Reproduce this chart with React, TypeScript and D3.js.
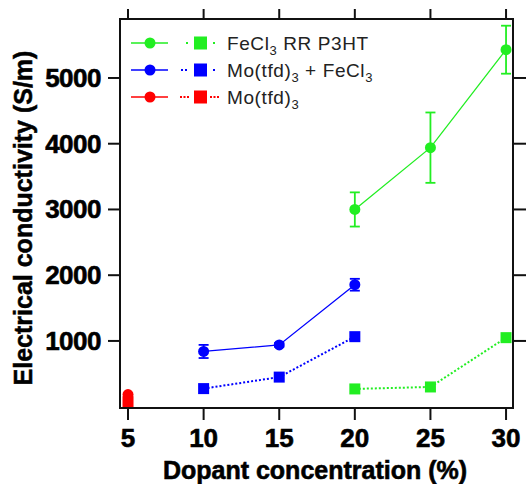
import React from 'react';
import * as d3 from 'd3';

// tick values
const xTicks = [5, 10, 15, 20, 25, 30];
const yTicks = [1000, 2000, 3000, 4000, 5000];

// FeCl3 RR P3HT
const fecl3CircleX = [20, 25, 30];
const fecl3CircleY = [3000, 3940, 5430];
const fecl3CircleErr = [260, 535, 365];
const fecl3SquareX = [20, 25, 30];
const fecl3SquareY = [270, 300, 1050];

// Mo(tfd)3 + FeCl3
const moFeCircleX = [10, 15, 20];
const moFeCircleY = [840, 940, 1855];
const moFeCircleErr = [100, 30, 90];
const moFeSquareX = [10, 15, 20];
const moFeSquareY = [275, 450, 1065];

// Mo(tfd)3
const moCircleX = [5];
const moCircleY = [185];
const moCircleErr = [0];
const moSquareX = [5];
const moSquareY = [75];

const GREEN = '#22ee22';
const BLUE = '#0000ff';
const RED = '#ff0000';

// legend dotted-line dot positions (px), as drawn in the original key
const series = [
  { name: 'fecl3', color: GREEN, cx: fecl3CircleX, cy: fecl3CircleY, ce: fecl3CircleErr, sx: fecl3SquareX, sy: fecl3SquareY, dots: [186, 213] },
  { name: 'mofe', color: BLUE, cx: moFeCircleX, cy: moFeCircleY, ce: moFeCircleErr, sx: moFeSquareX, sy: moFeSquareY, dots: [181, 185, 213] },
  { name: 'mo', color: RED, cx: moCircleX, cy: moCircleY, ce: moCircleErr, sx: moSquareX, sy: moSquareY, dots: [180, 183.5, 187, 210, 213.5, 217] },
];

const W = 526;
const H = 484;
const left = 120, right = 513, top = 19, bottom = 408;

const App = () => {
  const x = d3.scaleLinear().domain([4.47, 30.46]).range([left, right]);
  const y = d3.scaleLinear().domain([-20, 5897]).range([bottom, top]);

  const line = d3.line<[number, number]>()
    .x(d => x(d[0]))
    .y(d => y(d[1]));

  const font = '"Liberation Sans", Arial, sans-serif';

  return (
    <svg width={W} height={H} style={{ position: 'absolute', left: 0, top: 0, background: '#fff' }}>
      <defs>
        <clipPath id="plot">
          <rect x={left} y={top} width={right - left} height={bottom - top} />
        </clipPath>
      </defs>

      {/* data */}
      <g clipPath="url(#plot)">
        {series.map(s => (
          <g key={s.name}>
            <path d={line(s.cx.map((v, i) => [v, s.cy[i]] as [number, number])) || ''}
              fill="none" stroke={s.color} strokeWidth={1.3} />
            <path d={line(s.sx.map((v, i) => [v, s.sy[i]] as [number, number])) || ''}
              fill="none" stroke={s.color} strokeWidth={2} strokeDasharray="2,2" />
            {s.cx.map((v, i) => s.ce[i] > 0 ? (
              <g key={'e' + i} stroke={s.color} strokeWidth={1.8}>
                <line x1={x(v)} x2={x(v)} y1={y(s.cy[i] - s.ce[i])} y2={y(s.cy[i] + s.ce[i])} />
                <line x1={x(v) - 5} x2={x(v) + 5} y1={y(s.cy[i] + s.ce[i])} y2={y(s.cy[i] + s.ce[i])} />
                <line x1={x(v) - 5} x2={x(v) + 5} y1={y(s.cy[i] - s.ce[i])} y2={y(s.cy[i] - s.ce[i])} />
              </g>
            ) : null)}
            {s.cx.map((v, i) => (
              <circle key={'c' + i} cx={x(v)} cy={y(s.cy[i])} r={5.5} fill={s.color} />
            ))}
            {s.sx.map((v, i) => (
              <rect key={'s' + i} x={x(v) - 5.5} y={y(s.sy[i]) - 5.5} width={11} height={11} fill={s.color} />
            ))}
          </g>
        ))}
      </g>

      {/* frame */}
      <rect x={left} y={top} width={right - left} height={bottom - top} fill="none" stroke="#111" strokeWidth={2} />

      {/* x ticks top and bottom */}
      {xTicks.map(t => (
        <g key={'x' + t}>
          <line x1={x(t)} x2={x(t)} y1={top} y2={top - 10} stroke="#111" strokeWidth={2} />
          <line x1={x(t)} x2={x(t)} y1={bottom} y2={bottom + 12} stroke="#111" strokeWidth={2} />
          <text x={x(t)} y={447} textAnchor="middle" fontFamily={font} fontWeight="bold" fontSize={26}
            stroke="#000" strokeWidth={0.6} fill="#000">{t}</text>
        </g>
      ))}

      {/* y ticks left and right */}
      {yTicks.map(t => (
        <g key={'y' + t}>
          <line x1={left} x2={left - 12} y1={y(t)} y2={y(t)} stroke="#111" strokeWidth={2} />
          <line x1={right} x2={right + 13} y1={y(t)} y2={y(t)} stroke="#111" strokeWidth={2} />
          <text x={101} y={y(t) + 9} textAnchor="end" fontFamily={font} fontWeight="bold" fontSize={26}
            stroke="#000" strokeWidth={0.6} fill="#000" letterSpacing={-0.5}>{t}</text>
        </g>
      ))}

      {/* axis titles */}
      <text x={315} y={479} textAnchor="middle" fontFamily={font} fontWeight="bold" fontSize={25}
        stroke="#000" strokeWidth={0.6} fill="#000">Dopant concentration (%)</text>
      <text transform={`translate(32,${218}) rotate(-90)`} textAnchor="middle" fontFamily={font}
        fontWeight="bold" fontSize={25} stroke="#000" strokeWidth={0.5} fill="#000">Electrical conductivity (S/m)</text>

      {/* legend */}
      {series.map((s, i) => {
        const ly = 43 + i * 27;
        return (
          <g key={'l' + s.name}>
            <line x1={131} x2={168} y1={ly} y2={ly} stroke={s.color} strokeWidth={1.5} />
            <circle cx={150} cy={ly} r={5.5} fill={s.color} />
            {s.dots.map((d, j) => (
              <rect key={j} x={d} y={ly - 1} width={2} height={2} fill={s.color} />
            ))}
            <rect x={194} y={ly - 6.5} width={13} height={13} fill={s.color} />
          </g>
        );
      })}
      <g fontFamily={font} fontSize={19} fill="#222" letterSpacing={0.6}>
        <text x={227} y={50}>FeCl<tspan fontSize={13} dy={5}>3</tspan><tspan dy={-5}> RR P3HT</tspan></text>
        <text x={227} y={77}>Mo(tfd)<tspan fontSize={13} dy={5}>3</tspan><tspan dy={-5}> + FeCl</tspan><tspan fontSize={13} dy={5}>3</tspan></text>
        <text x={227} y={104}>Mo(tfd)<tspan fontSize={13} dy={5}>3</tspan></text>
      </g>
    </svg>
  );
};

export default App;
